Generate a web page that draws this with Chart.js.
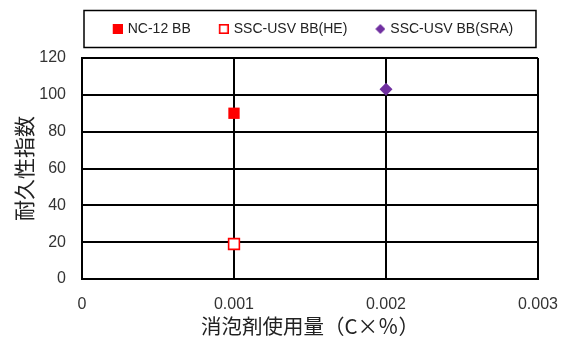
<!DOCTYPE html>
<html>
<head>
<meta charset="utf-8">
<script src="https://cdn.jsdelivr.net/npm/chart.js@4.4.0/dist/chart.umd.min.js"></script>
<style>
  html, body { margin: 0; padding: 0; background: #fff; }
  #wrap { width: 566px; height: 340px; }
</style>
</head>
<body>
<div id="wrap"><canvas id="c" width="566" height="340"></canvas></div>
<script>
// Series: defoamer dosage (C×%) vs. durability index
const seriesNames = ['NC-12 BB', 'SSC-USV BB(HE)', 'SSC-USV BB(SRA)'];
const ncDose = [0.001];
const ncIndex = [90];
const heDose = [0.001];
const heIndex = [19];
const sraDose = [0.002];
const sraIndex = [103];
const xTickLabels = ['0', '0.001', '0.002', '0.003'];
const yTickLabels = ['0', '20', '40', '60', '80', '100', '120'];

const LATIN = '"Liberation Sans", "Noto Sans CJK JP", sans-serif';
const CJK = '"Noto Sans CJK JP", "Liberation Sans", sans-serif';
const RED = '#FF0000';
const PURPLE = '#7030A0';

function pairs(xs, ys) { return xs.map((x, i) => ({ x: x, y: ys[i] })); }

// Small legend icons (icon sits at the right end of the image)
function legendIcon(kind) {
  const c = document.createElement('canvas');
  c.width = 18; c.height = 12;
  const g = c.getContext('2d');
  if (kind === 'fill') {
    g.fillStyle = RED; g.fillRect(8, 1, 10, 10);
  } else if (kind === 'open') {
    g.fillStyle = '#fff'; g.fillRect(8, 1, 10, 10);
    g.strokeStyle = RED; g.lineWidth = 1.6; g.strokeRect(8.8, 1.8, 8.4, 8.4);
  } else {
    g.fillStyle = PURPLE; g.beginPath();
    g.moveTo(13, 1); g.lineTo(18, 6); g.lineTo(13, 11); g.lineTo(8, 6); g.closePath(); g.fill();
  }
  return c;
}
const legendIcons = [legendIcon('fill'), legendIcon('open'), legendIcon('diamond')];

// Reserve a fixed band above the plot for the legend row
const legendBand = {
  id: 'legendBand',
  afterInit(chart) {
    const lg = chart.legend;
    if (!lg) return;
    const fit = lg.fit;
    lg.fit = function () { fit.call(this); this.height = 58; };
  }
};

// Frame around the legend row
const legendFrame = {
  id: 'legendFrame',
  afterDraw(chart) {
    const a = chart.chartArea, ctx = chart.ctx;
    ctx.save();
    ctx.strokeStyle = '#000';
    ctx.lineWidth = 1.5;
    ctx.strokeRect(a.left + 2, 10.5, (a.right - 2) - (a.left + 2), 37);
    ctx.restore();
  }
};

new Chart(document.getElementById('c'), {
  type: 'scatter',
  data: {
    datasets: [
      { label: seriesNames[0], data: pairs(ncDose, ncIndex), pointStyle: 'rect', pointRadius: 8,
        backgroundColor: RED, borderColor: RED, borderWidth: 0 },
      { label: seriesNames[1], data: pairs(heDose, heIndex), pointStyle: 'rect', pointRadius: 7.6,
        backgroundColor: '#fff', borderColor: RED, borderWidth: 1.6 },
      { label: seriesNames[2], data: pairs(sraDose, sraIndex), pointStyle: 'rectRot', pointRadius: 6.5,
        backgroundColor: PURPLE, borderColor: PURPLE, borderWidth: 0 }
    ]
  },
  options: {
    responsive: false,
    animation: false,
    layout: { padding: { left: 0, right: 28, top: 0, bottom: 0 } },
    plugins: {
      tooltip: { enabled: false },
      legend: {
        position: 'top',
        fullSize: false,
        labels: {
          usePointStyle: true,
          pointStyleWidth: 14,
          padding: 22,
          color: '#222',
          font: { family: LATIN, size: 14 },
          generateLabels(chart) {
            return Chart.defaults.plugins.legend.labels.generateLabels(chart)
              .map((item, i) => Object.assign(item, { pointStyle: legendIcons[i] }));
          }
        }
      }
    },
    scales: {
      x: {
        type: 'linear',
        min: 0, max: 0.003,
        afterFit(s) { s.height = 61; },
        grid: { color: '#000', lineWidth: 2, drawTicks: false },
        border: { color: '#000', width: 2 },
        ticks: {
          stepSize: 0.001, padding: 8, color: '#333',
          font: { family: LATIN, size: 16, lineHeight: 2.2 },
          callback: (v, i) => xTickLabels[i]
        },
        title: {
          display: true, text: '消泡剤使用量（C×％）', color: '#222',
          font: { family: CJK, size: 20.5, lineHeight: 1.2 },
          padding: { top: 0, bottom: 1 }
        }
      },
      y: {
        min: 0, max: 120,
        afterFit(s) { s.width = 82; },
        grid: { color: '#000', lineWidth: 2, drawTicks: false },
        border: { color: '#000', width: 2 },
        ticks: {
          stepSize: 20, padding: 16, color: '#333',
          font: { family: LATIN, size: 16 },
          callback: (v, i) => yTickLabels[i]
        },
        title: {
          display: true, text: '耐久性指数', color: '#222',
          font: { family: CJK, size: 21, lineHeight: 1.2 },
          padding: { top: 11, bottom: 0 }
        }
      }
    }
  },
  plugins: [legendBand, legendFrame]
});
</script>
</body>
</html>
